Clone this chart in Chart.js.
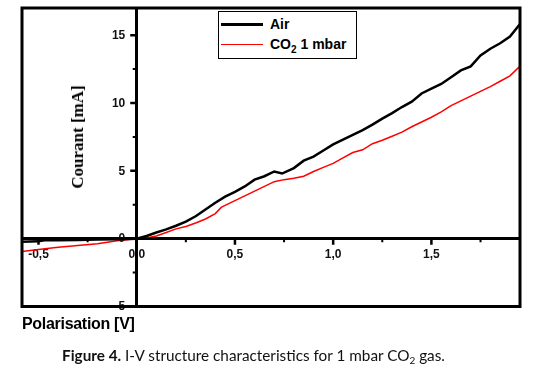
<!DOCTYPE html>
<html>
<head>
<meta charset="utf-8">
<script src="https://cdn.jsdelivr.net/npm/chart.js@4"></script>
<style>
  body { margin: 0; background: #fff; }
  #wrap { position: relative; width: 559px; height: 386px; overflow: hidden; }
  #grafico { position: absolute; left: 0; top: 0; }
  #leyenda {
    position: absolute; left: 218px; top: 11px; width: 139px; height: 48px;
    border: 1.5px solid #000; box-sizing: border-box; background: #fff;
    font: bold 14px "Liberation Sans", Arial, sans-serif; color: #000;
  }
  #leyenda .fila { position: absolute; left: 2px; height: 20px; line-height: 20px; white-space: nowrap; }
  #leyenda .linea { position: absolute; left: 0; width: 42px; }
  #leyenda .txt { position: absolute; left: 49px; top: 0; }
  #leyenda sub { font-size: 10px; vertical-align: -4px; line-height: 0; }
  #ytitulo {
    position: absolute; left: 78px; top: 137px; transform: translate(-50%, -50%) rotate(-90deg);
    font: bold 17px "Liberation Serif", "Times New Roman", serif; white-space: nowrap; color: #000;
  }
  #xtitulo {
    position: absolute; left: 22px; top: 315px;
    font: bold 16px "Liberation Sans", Arial, sans-serif; letter-spacing: -0.3px; color: #000; white-space: nowrap;
  }
  #pie {
    position: absolute; left: 0; width: 507px; top: 346px; text-align: center;
    font: 15.3px Lato, "Noto Sans", sans-serif; color: #111; white-space: nowrap;
  }
  #pie sub { font-size: 10px; line-height: 0; vertical-align: -3px; }
</style>
</head>
<body>
<div id="wrap">
  <canvas id="grafico" width="559" height="386"></canvas>
  <div id="leyenda">
    <div class="fila" style="top:2px;width:130px"><span class="linea" style="top:9px;border-top:3px solid #000"></span><span class="txt">Air</span></div>
    <div class="fila" style="top:22px;width:130px"><span class="linea" style="top:10px;border-top:1px solid #f00"></span><span class="txt">CO<sub>2</sub> 1 mbar</span></div>
  </div>
  <div id="ytitulo">Courant [mA]</div>
  <div id="xtitulo">Polarisation [V]</div>
  <div id="pie"><b>Figure 4.</b> I-V structure characteristics for 1 mbar CO<sub>2</sub> gas.</div>
</div>
<script>
// Datos
const airV = [-0.584, -0.5, -0.47, -0.4, -0.3, -0.2, -0.1, 0, 0.05, 0.1, 0.15, 0.2, 0.25, 0.3, 0.35, 0.4, 0.45, 0.5, 0.55, 0.6,
  0.65, 0.7, 0.74, 0.8, 0.85, 0.9, 0.95, 1.0, 1.05, 1.1, 1.15, 1.2, 1.25, 1.3, 1.35, 1.4, 1.45, 1.5, 1.55, 1.6,
  1.65, 1.7, 1.75, 1.8, 1.85, 1.9, 1.95];
const airI = [-0.22, -0.2, -0.12, -0.11, -0.09, -0.07, -0.04, 0, 0.2, 0.45, 0.68, 0.95, 1.25, 1.65, 2.15, 2.65, 3.1, 3.45, 3.85, 4.35,
  4.6, 4.95, 4.8, 5.2, 5.75, 6.05, 6.5, 6.95, 7.3, 7.65, 8.0, 8.4, 8.85, 9.25, 9.7, 10.1, 10.7, 11.05, 11.4, 11.9,
  12.4, 12.7, 13.5, 14.0, 14.4, 14.9, 15.8];

const co2V = [-0.584, -0.5, -0.4, -0.3, -0.2, -0.1, 0, 0.05, 0.1, 0.15, 0.2, 0.25, 0.3, 0.35, 0.4, 0.43, 0.45, 0.5, 0.55, 0.6,
  0.65, 0.7, 0.75, 0.8, 0.85, 0.9, 0.95, 1.0, 1.05, 1.1, 1.15, 1.2, 1.25, 1.3, 1.35, 1.4, 1.45, 1.5, 1.55, 1.6,
  1.65, 1.7, 1.75, 1.8, 1.85, 1.9, 1.95];
const co2I = [-0.95, -0.8, -0.63, -0.5, -0.38, -0.15, 0, 0.05, 0.2, 0.45, 0.72, 0.9, 1.15, 1.45, 1.85, 2.3, 2.45, 2.8, 3.15, 3.5,
  3.85, 4.2, 4.35, 4.45, 4.6, 4.95, 5.25, 5.55, 5.95, 6.35, 6.55, 7.0, 7.25, 7.55, 7.85, 8.25, 8.6, 8.95, 9.35, 9.8,
  10.15, 10.5, 10.85, 11.2, 11.6, 12.0, 12.7];

const xTicks = [-0.5, 0, 0.5, 1, 1.5];
const xMinor = [-0.25, 0.25, 0.75, 1.25, 1.75];
const yTicks = [-5, 0, 5, 10, 15];
const yMinor = [-2.5, 2.5, 7.5, 12.5];
const xMin = -0.584, xMax = 1.951;
const yMin = -5, yMax = 17;

const fuenteTicks = { family: "'Liberation Sans', Arial, sans-serif", size: 12, weight: "bold" };

// marcas, etiquetas del eje y (Chart.js las pega al eje cuando va en x=0), ejes y marco encima
const marco = {
  id: "marco",
  afterDraw(chart) {
    const { ctx, chartArea: a, scales } = chart;
    const x0 = scales.x.getPixelForValue(0);
    const y0 = scales.y.getPixelForValue(0);
    ctx.save();
    ctx.fillStyle = "#111";
    ctx.font = "bold 12px 'Liberation Sans', Arial, sans-serif";
    ctx.textAlign = "right";
    ctx.textBaseline = "middle";
    yTicks.forEach(v => ctx.fillText(String(v), x0 - 11.5, scales.y.getPixelForValue(v) + 0.5));

    ctx.strokeStyle = "#000";
    ctx.lineWidth = 2.5;
    ctx.beginPath();
    xTicks.forEach(v => { const p = scales.x.getPixelForValue(v); ctx.moveTo(p, y0); ctx.lineTo(p, y0 + 6); });
    yTicks.forEach(v => { const p = scales.y.getPixelForValue(v); ctx.moveTo(x0, p); ctx.lineTo(x0 - 6.5, p); });
    ctx.stroke();
    ctx.lineWidth = 2;
    ctx.beginPath();
    xMinor.forEach(v => { const p = scales.x.getPixelForValue(v); ctx.moveTo(p, y0); ctx.lineTo(p, y0 + 3.5); });
    yMinor.forEach(v => { const p = scales.y.getPixelForValue(v); ctx.moveTo(x0, p); ctx.lineTo(x0 - 4, p); });
    ctx.stroke();

    ctx.lineWidth = 2.5;
    ctx.beginPath();
    ctx.moveTo(x0, a.top); ctx.lineTo(x0, a.bottom);
    ctx.moveTo(a.left, y0); ctx.lineTo(a.right, y0);
    ctx.stroke();
    ctx.lineWidth = 3;
    ctx.strokeRect(a.left, a.top, a.right - a.left, a.bottom - a.top);
    ctx.restore();
  }
};

const ctx = document.getElementById("grafico").getContext("2d");
new Chart(ctx, {
  type: "line",
  data: {
    datasets: [{
      label: "Air",
      data: airV.map((v, i) => ({ x: v, y: airI[i] })),
      borderColor: "#000",
      borderWidth: 2.5,
      pointRadius: 0
    }, {
      label: "CO2 1 mbar",
      data: co2V.map((v, i) => ({ x: v, y: co2I[i] })),
      borderColor: "#ff0000",
      borderWidth: 1.5,
      pointRadius: 0
    }]
  },
  options: {
    responsive: false,
    animation: false,
    layout: { padding: { left: 22, top: 8, right: 39, bottom: 79.5 } },
    plugins: { legend: { display: false }, tooltip: { enabled: false } },
    scales: {
      x: {
        type: "linear", min: xMin, max: xMax, position: { y: 0 },
        afterBuildTicks: s => { s.ticks = xTicks.map(v => ({ value: v })); },
        ticks: { callback: v => v.toFixed(1).replace(".", ","), font: fuenteTicks, color: "#111", padding: 9, maxRotation: 0, autoSkip: false },
        grid: { drawOnChartArea: false, drawTicks: false },
        border: { color: "#000", width: 2.5 }
      },
      y: {
        type: "linear", min: yMin, max: yMax, position: { x: 0 },
        afterBuildTicks: s => { s.ticks = yTicks.map(v => ({ value: v })); },
        ticks: { display: false },
        grid: { drawOnChartArea: false, drawTicks: false },
        border: { color: "#000", width: 2.5 }
      }
    }
  },
  plugins: [marco]
});
</script>
</body>
</html>
